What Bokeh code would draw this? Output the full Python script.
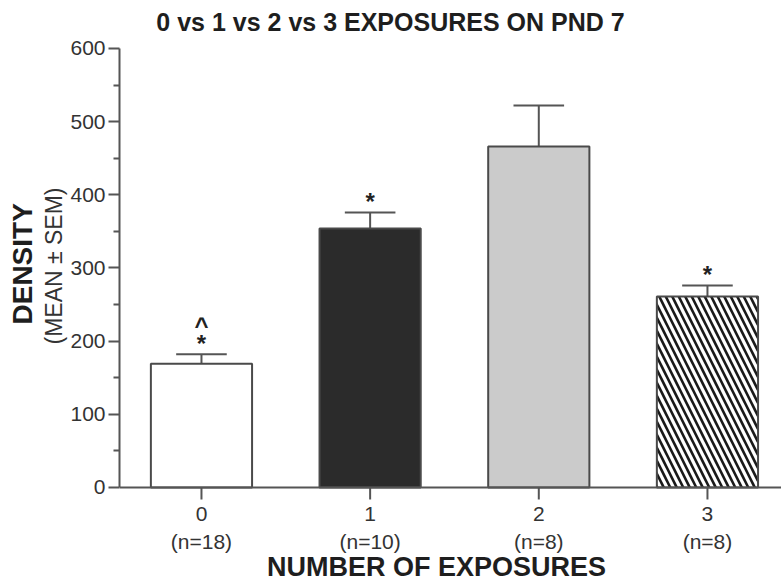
import math
from bokeh.plotting import figure
from bokeh.models import ColumnDataSource, FixedTicker, Title, Label, Span
from bokeh.core.properties import value
from bokeh.embed import file_html
from bokeh.resources import INLINE

# ---- data ----
exposures = [0, 1, 2, 3]
x_tick_labels = ["0", "1", "2", "3"]
n_labels = ["(n=18)", "(n=10)", "(n=8)", "(n=8)"]
density_mean = [169, 354, 466, 261]
density_sem = [13, 22, 56, 15]
star_marks = ["*", "*", "", "*"]
caret_marks = ["^", "", "", ""]
y_ticks = [0, 100, 200, 300, 400, 500, 600]
y_minor_ticks = [50, 150, 250, 350, 450, 550]

FONT = "Liberation Sans"
AX = "#555555"

fills = ["#ffffff", "#2b2b2b", "#cbcbcb", "#ffffff"]
hatches = [" ", " ", " ", "left_diagonal_line"]

tops = [m + s for m, s in zip(density_mean, density_sem)]
src = ColumnDataSource(dict(
    x=exposures, mean=density_mean, top=tops, fill=fills, hatch=hatches,
    star=star_marks, caret=caret_marks, xlab=x_tick_labels, nlab=n_labels,
    zero=[0] * len(exposures),
    cl=[x - 0.15 for x in exposures], cr=[x + 0.15 for x in exposures],
))

# frame fills the canvas right of the y axis; y axis itself is bounded to 0..600
p = figure(width=781, height=581, output_backend="svg", toolbar_location=None,
           x_range=(-0.486, 3.439), y_range=(-128.5, 665.6),
           min_border_left=119, min_border_right=0, min_border_top=0,
           min_border_bottom=0)
p.outline_line_color = None
p.xgrid.visible = False
p.ygrid.visible = False
p.xaxis.visible = False
p.background_fill_color = "white"
p.border_fill_color = "white"

# x axis line and ticks
p.add_layout(Span(location=0, dimension="width", line_color=AX, line_width=2))
p.ray(x="x", y="zero", length=12, length_units="screen", angle=-math.pi / 2,
      source=src, line_color=AX, line_width=2)

# error bars (upper only)
p.segment(x0="x", y0="mean", x1="x", y1="top", source=src, line_color=AX, line_width=2)
p.segment(x0="cl", y0="top", x1="cr", y1="top", source=src, line_color=AX, line_width=2)

# bars
p.vbar(x="x", top="mean", bottom=0, width=0.6, source=src, fill_color="fill",
       line_color="#4a4a4a", line_width=2, hatch_pattern="hatch",
       hatch_color="#1a1a1a", hatch_weight=2.6, hatch_scale=13)

# significance marks
p.text(x="x", y="top", text="star", source=src, text_font=value(FONT),
       text_font_style="bold", text_font_size="24px", text_align="center",
       text_baseline="alphabetic", text_color="#222222", y_offset=-11)
p.text(x="x", y="top", text="caret", source=src, text_font=value(FONT),
       text_font_style="bold", text_font_size="24px", text_align="center",
       text_baseline="alphabetic", text_color="#222222", y_offset=-29)

# x tick labels (two rows)
p.text(x="x", y="zero", text="xlab", source=src, text_font=value(FONT),
       text_font_size="21px", text_align="center", text_baseline="middle",
       text_color="#333333", y_offset=27)
p.text(x="x", y="zero", text="nlab", source=src, text_font=value(FONT),
       text_font_size="21px", text_align="center", text_baseline="middle",
       text_color="#333333", y_offset=54)

# y axis
ya = p.yaxis[0]
ya.bounds = (0, 600)
ya.ticker = FixedTicker(ticks=y_ticks, minor_ticks=y_minor_ticks)
ya.axis_line_color = AX
ya.axis_line_width = 2
ya.major_tick_line_color = AX
ya.major_tick_line_width = 2
ya.minor_tick_line_color = AX
ya.minor_tick_line_width = 2
ya.major_tick_out = 11
ya.major_tick_in = 0
ya.minor_tick_out = 6
ya.minor_tick_in = 0
ya.major_label_standoff = 3
ya.major_label_text_font = FONT
ya.major_label_text_font_size = "21px"
ya.major_label_text_color = "#333333"

# titles (screen units: x from frame left, y up from frame bottom)
p.add_layout(Label(x=271, y=560, x_units="screen", y_units="screen",
                   text="0 vs 1 vs 2 vs 3 EXPOSURES ON PND 7", text_font=FONT,
                   text_font_style="bold", text_font_size="25px", text_color="#1e1e1e",
                   text_align="center", text_baseline="middle"))
p.add_layout(Label(x=317, y=15, x_units="screen", y_units="screen",
                   text="NUMBER OF EXPOSURES", text_font=FONT,
                   text_font_style="bold", text_font_size="27px", text_color="#1e1e1e",
                   text_align="center", text_baseline="middle"))

p.add_layout(Title(text="(MEAN \u00b1 SEM)", text_font=FONT, text_font_size="23px",
                   text_font_style="normal", text_color="#333333", align="left",
                   offset=237, standoff=2), "left")
p.add_layout(Title(text="DENSITY", text_font=FONT, text_font_size="28px",
                   text_font_style="bold", text_color="#1e1e1e", align="left",
                   offset=257, standoff=0), "left")

open("out.html", "w").write(file_html(p, INLINE))
